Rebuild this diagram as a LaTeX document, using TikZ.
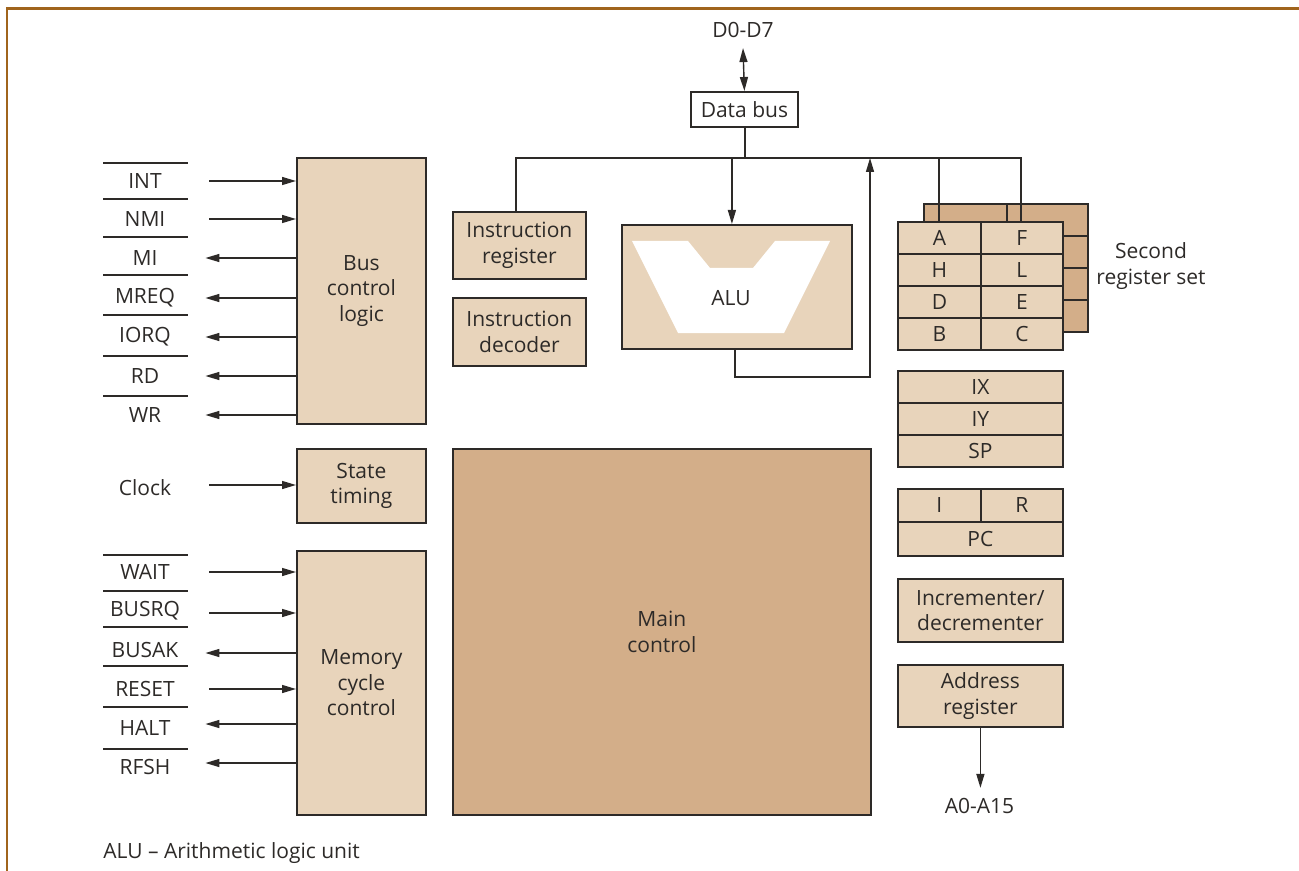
\documentclass[tikz,border=0pt]{standalone}
\usepackage{fontspec}
\setmainfont{Open Sans}
\usetikzlibrary{arrows.meta,positioning}
\definecolor{framebrown}{RGB}{160,100,28}
\definecolor{lighttan}{RGB}{232,212,187}
\definecolor{darktan}{RGB}{211,174,137}
\definecolor{ink}{RGB}{45,42,40}

\begin{document}
\begin{tikzpicture}[x=0.5pt,y=-0.5pt,
  blk/.style={draw=ink,line width=0.9pt,fill=lighttan,align=center,inner sep=0pt,anchor=north west,text=ink,font=\fontsize{10.5}{12.7}\selectfont},
  cell/.style={blk,minimum height=16pt},
  lbl/.style={inner sep=0pt,align=center,text=ink,font=\fontsize{10.5}{12.7}\selectfont},
  pin/.style={lbl,minimum width=60pt},
  wire/.style={draw=ink,line width=0.7pt},
  sig/.style={wire,-{Triangle[length=7pt,width=4pt]}},
  rule/.style={draw=ink,line width=0.8pt}]
\useasboundingbox (0,0) rectangle (1299,871);
\draw[framebrown,line width=1.1pt] (7,871)--(7,8.5)--(1299,8.5);

% left hand blocks
\node[blk,minimum width=64.5pt,minimum height=133pt] (buslogic) at (296,157) {Bus\\control\\logic};
\node[blk,minimum width=64.5pt,minimum height=37pt] (statetim) at (296,448) {State\\timing};
\node[blk,minimum width=64.5pt,minimum height=132pt] (memcycle) at (296,550) {Memory\\cycle\\control};
\node[blk,fill=darktan,minimum width=209pt,minimum height=183pt] (mainctl) at (452,448) {Main\\control};

% pins of the bus control logic
\node[pin] (pint) at (145,181) {INT};
\node[pin] (pnmi) at (145,219) {NMI};
\node[pin] (pmi) at (145,258) {MI};
\node[pin] (pmreq) at (145,298) {MREQ};
\node[pin] (piorq) at (145,337) {IORQ};
\node[pin] (prd) at (145,376) {RD};
\node[pin] (pwr) at (145,415) {WR};
\node[pin] (pclk) at (145,488) {Clock};
\node[pin] (pwait) at (145,572) {WAIT};
\node[pin] (pbusrq) at (145,611) {BUSRQ};
\node[pin] (pbusak) at (145,650) {BUSAK};
\node[pin] (preset) at (145,689) {RESET};
\node[pin] (phalt) at (145,728) {HALT};
\node[pin] (prfsh) at (145,767) {RFSH};
\draw[rule] (103,163)--(188,163);
\draw[rule] (103,199)--(188,199);
\draw[rule] (103,237)--(188,237);
\draw[rule] (103,275)--(188,275);
\draw[rule] (103,315)--(188,315);
\draw[rule] (103,356)--(188,356);
\draw[rule] (103,396)--(188,396);
\draw[rule] (103,555)--(188,555);
\draw[rule] (103,591)--(188,591);
\draw[rule] (103,627)--(188,627);
\draw[rule] (103,666)--(188,666);
\draw[rule] (103,707)--(188,707);
\draw[rule] (103,749)--(188,749);

\draw[sig] ([xshift=2pt]pint.east) -- (pint.east -| buslogic.west);
\draw[sig] ([xshift=2pt]pnmi.east) -- (pnmi.east -| buslogic.west);
\draw[sig] (pmi.east -| buslogic.west) -- (pmi.east);
\draw[sig] (pmreq.east -| buslogic.west) -- (pmreq.east);
\draw[sig] (piorq.east -| buslogic.west) -- (piorq.east);
\draw[sig] (prd.east -| buslogic.west) -- (prd.east);
\draw[sig] (pwr.east -| buslogic.west) -- (pwr.east);
\draw[sig] ([xshift=2pt,yshift=1.5pt]pclk.east) -- ([yshift=1.5pt]pclk.east -| statetim.west);
\draw[sig] ([xshift=2pt]pwait.east) -- (pwait.east -| memcycle.west);
\draw[sig] ([xshift=2pt,yshift=-1pt]pbusrq.east) -- ([yshift=-1pt]pbusrq.east -| memcycle.west);
\draw[sig] ([yshift=-1.5pt]pbusak.east -| memcycle.west) -- ([yshift=-1.5pt]pbusak.east);
\draw[sig] ([xshift=2pt]preset.east) -- (preset.east -| memcycle.west);
\draw[sig] ([yshift=2pt]phalt.east -| memcycle.west) -- ([yshift=2pt]phalt.east);
\draw[sig] ([yshift=2pt]prfsh.east -| memcycle.west) -- ([yshift=2pt]prfsh.east);

% data bus and ALU
\node[lbl] (dbus) at (743,30) {D0-D7};
\node[blk,fill=white,minimum width=53.5pt,minimum height=17.5pt] (databus) at (690,91) {Data bus};
\node[blk,minimum width=66.5pt,minimum height=33.5pt] (ireg) at (452,211) {Instruction\\register};
\node[blk,minimum width=66.5pt,minimum height=34pt] (idec) at (452,297) {Instruction\\decoder};
\node[blk,minimum width=115pt,minimum height=62pt] (alubox) at (621,224) {};
\fill[white] (632,241)--(688,241)--(710,268)--(753,268)--(775,241)--(830,241)--(784,333)--(678,333)--cycle;
\node[lbl] (alu) at (731,298) {ALU};
\coordinate (busL) at (516,158);
\coordinate (loop) at (870,377);
\draw[wire,{Triangle[length=7pt,width=4pt]}-{Triangle[length=7pt,width=4pt]}] ([yshift=-5pt]dbus.south) -- (databus.north);

% register file, second set behind
\fill[darktan,draw=ink,line width=0.9pt] (924,204) rectangle (1088,332);
\draw[wire,line width=0.9pt] (1007,204)--(1007,221);
\draw[wire,line width=0.9pt] (1062,236)--(1088,236);
\draw[wire,line width=0.9pt] (1062,268)--(1088,268);
\draw[wire,line width=0.9pt] (1062,300)--(1088,300);
\node[cell,minimum width=41.5pt] (regA) at (897,221) {A};
\node[cell,minimum width=41pt] (regF) at (980,221) {F};
\node[cell,minimum width=41.5pt] (regH) at (897,253) {H};
\node[cell,minimum width=41pt] (regL) at (980,253) {L};
\node[cell,minimum width=41.5pt] (regD) at (897,285) {D};
\node[cell,minimum width=41pt] (regE) at (980,285) {E};
\node[cell,minimum width=41.5pt] (regB) at (897,317) {B};
\node[cell,minimum width=41pt] (regC) at (980,317) {C};
\node[lbl] (second) at (1151,266) {Second\\register set};

\node[cell,minimum width=82.5pt] (regIX) at (897,370) {IX};
\node[cell,minimum width=82.5pt] (regIY) at (897,402) {IY};
\node[cell,minimum width=82.5pt] (regSP) at (897,434) {SP};
\node[cell,minimum width=41.5pt,minimum height=16.5pt] (regI) at (897,488) {I};
\node[cell,minimum width=41pt,minimum height=16.5pt] (regR) at (980,488) {R};
\node[cell,minimum width=82.5pt,minimum height=17pt] (regPC) at (897,521) {PC};
\node[blk,minimum width=82.5pt,minimum height=31.5pt] (incdec) at (897,578) {Incrementer/\\decrementer};
\node[blk,minimum width=82.5pt,minimum height=31pt] (addr) at (897,664) {Address\\register};
\node[lbl] (abus) at (979.5,806) {A0-A15};

% internal bus
\draw[wire] ([xshift=0.25pt]databus.south) -- ([xshift=0.25pt]databus.south |- busL);
\draw[wire] (busL |- ireg.north) -- (busL) -- ([xshift=-0.5pt]regF.north |- busL) -- ([xshift=-0.5pt]regF.north);
\draw[wire] ([xshift=-0.25pt]regA.north |- busL) -- ([xshift=-0.25pt]regA.north);
\draw[sig] ([xshift=-2.5pt]alubox.north |- busL) -- ([xshift=-2.5pt]alubox.north);
\draw[sig] ([xshift=-1pt]alubox.south) |- (loop) -- (loop |- busL);
\draw[sig] (addr.south) -- ([yshift=5pt]addr.south |- abus.north);
\node[lbl,anchor=west] (note) at (103,853) {ALU -- Arithmetic logic unit};
\end{tikzpicture}
\end{document}
